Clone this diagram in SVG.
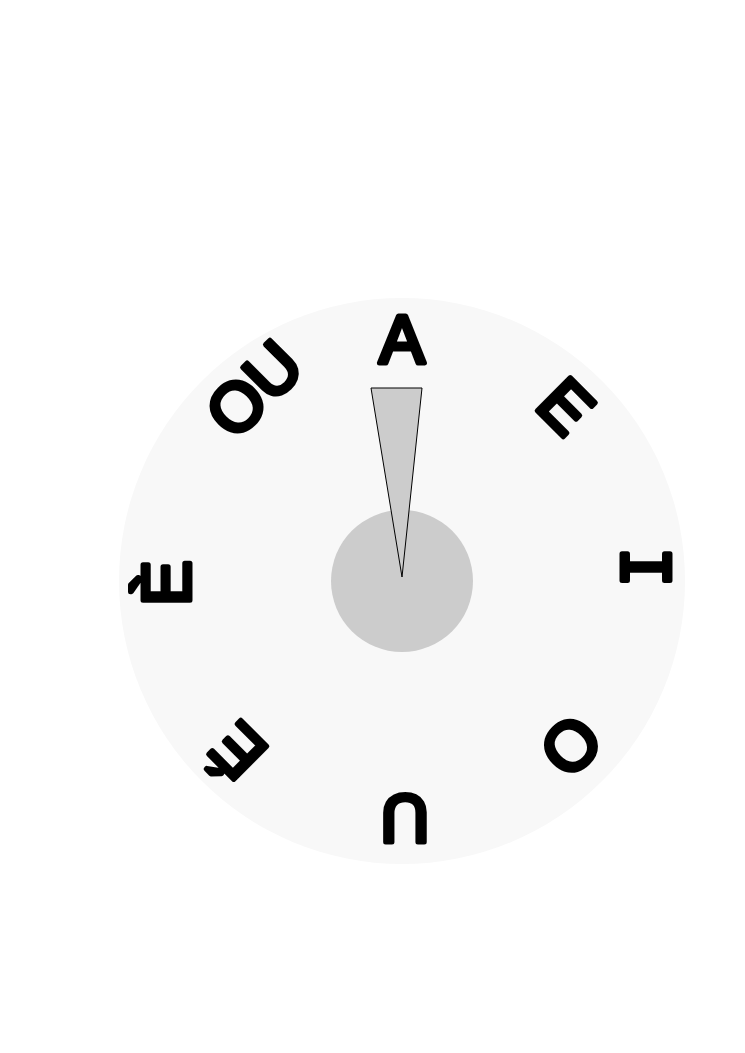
<svg xmlns="http://www.w3.org/2000/svg" width="745" height="1053" viewBox="0 0 745 1053">
<style>
.l{font-family:"Liberation Sans","DejaVu Sans",sans-serif;font-size:68px;fill:#000;stroke:#000;stroke-width:5;stroke-linejoin:round;text-anchor:middle}
.m{font-family:"DejaVu Sans Mono","Liberation Mono",monospace;font-size:66px}
</style>
<rect width="745" height="1053" fill="#fff"/>
<g id="dial">
<circle cx="402" cy="581" r="283" fill="#f8f8f8"/>
<circle cx="402" cy="581" r="71" fill="#cccccc"/>
</g>
<g id="letters">
<g id="n-A"><text class="l" transform="translate(402,338) rotate(0)" y="25">A</text></g>
<g id="n-E"><text class="l" transform="translate(567,405) rotate(45)" y="25">E</text></g>
<g id="n-I"><text class="l m" transform="translate(646,567) rotate(90)" y="24">I</text></g>
<g id="n-O"><text class="l" transform="translate(572,747) rotate(135)" y="25">O</text></g>
<g id="n-U"><text class="l" transform="translate(405,820) rotate(180)" y="25">U</text></g>
<g id="n-Eacute"><text class="l" transform="translate(237,752) rotate(225)" y="25">É</text></g>
<g id="n-Egrave"><text class="l" transform="translate(165,583) rotate(270)" y="25">È</text></g>
<g id="n-OU"><text class="l" transform="translate(253,388) rotate(315)" y="25">OU</text></g>
</g>
<g id="pointer">
<polygon points="371,388 422,388 402,577" fill="#cccccc" stroke="#000" stroke-width="1"/>
</g>
</svg>
